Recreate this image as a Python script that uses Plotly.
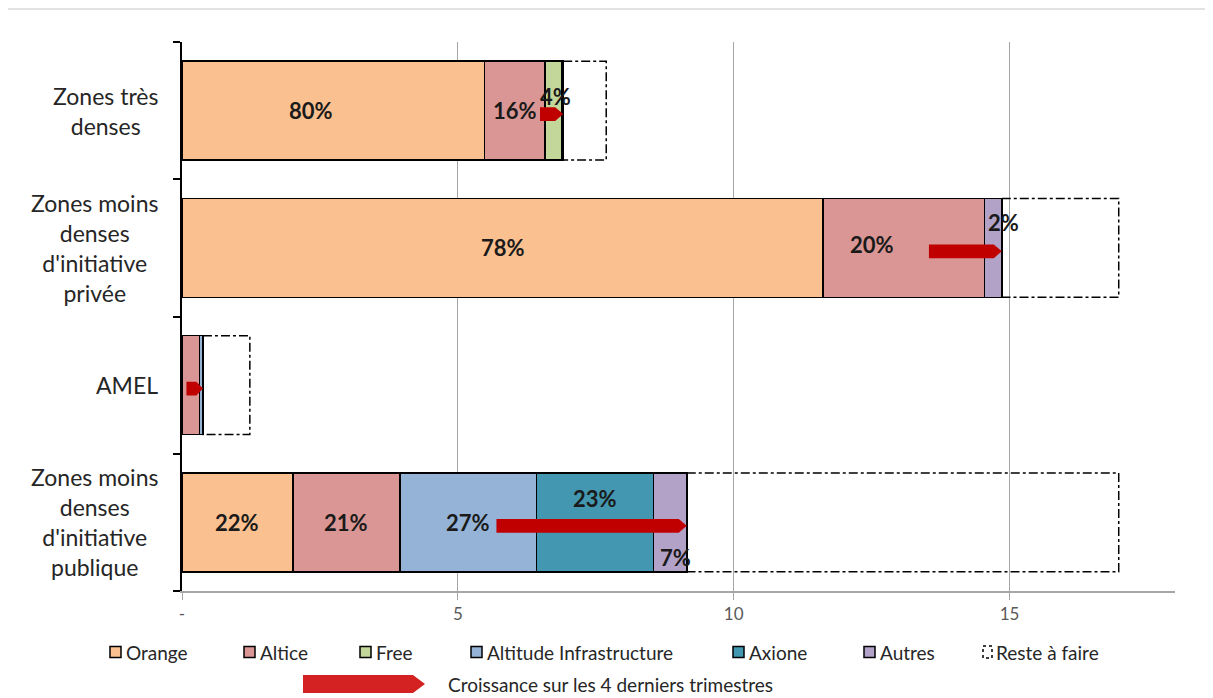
import plotly.graph_objects as go

# ---------------- data ----------------
categories = ["Zones très denses",
              "Zones moins denses d'initiative privée",
              "AMEL",
              "Zones moins denses d'initiative publique"]
category_labels = ["Zones très<br>denses",
                   "Zones moins<br>denses<br>d'initiative<br>privée",
                   "AMEL",
                   "Zones moins<br>denses<br>d'initiative<br>publique"]

orange = [5.48, 11.62, None, 2.01]
altice = [1.10, 2.93, 0.32, 1.94]
free = [0.31, None, None, None]
altitude = [None, None, 0.06, 2.48]
axione = [None, None, None, 2.12]
autres = [0.02, 0.31, None, 0.60]

target = [7.69, 16.98, 1.23, 16.98]      # total incl. "Reste à faire"
growth = [0.42, 1.32, 0.30, 3.45]        # croissance sur les 4 derniers trimestres

lbl_orange = ["80%", "78%", "", "22%"]
lbl_altice = ["16%", "20%", "", "21%"]
lbl_free = ["4%", "", "", ""]
lbl_altitude = ["", "", "", "27%"]
lbl_axione = ["", "", "", "23%"]
lbl_autres = ["", "2%", "", "7%"]

x_ticks = [0, 5, 10, 15]
x_ticktext = ["-", "5", "10", "15"]

series = [
    ("Orange", orange, "#FAC090", lbl_orange),
    ("Altice", altice, "#DA9694", lbl_altice),
    ("Free", free, "#C4D79B", lbl_free),
    ("Altitude Infrastructure", altitude, "#95B3D7", lbl_altitude),
    ("Axione", axione, "#4397B0", lbl_axione),
    ("Autres", autres, "#B3A2C7", lbl_autres),
]

# ---------------- layout geometry ----------------
OFF = 8                       # page body margin
W, H = 1213 - OFF, 698 - OFF
PLOT_L, PLOT_R, PLOT_T, PLOT_B = 182, 1175, 42, 591   # in reference pixels
ML, MT = PLOT_L - OFF, PLOT_T - OFF
MR, MB = W - (PLOT_R - OFF), H - (PLOT_B - OFF)
PW, PH = W - ML - MR, H - MT - MB


def px_x(px):
    return (px - OFF - ML) / PW


def px_y(py):
    return (H - MB - (py - OFF)) / PH


FONT = "Lato, 'Open Sans', sans-serif"
ypos = list(range(len(categories)))

fig = go.Figure()

for name, vals, col, _ in series:
    fig.add_trace(go.Bar(
        y=ypos, x=vals, name=name, orientation="h",
        marker=dict(color=col, line=dict(color="#000000", width=1.5)),
        width=0.72, showlegend=False, hoverinfo="x+name",
    ))

shapes = []
annotations = []

label_shift = {
    ("Orange", 0): (-22, 0),
    ("Altice", 1): (-32, 3),
    ("Free", 0): (2, 14),
    ("Autres", 1): (10, 25),
    ("Axione", 3): (0, 24),
    ("Autres", 3): (5, -35),
}
totals = []
for i in ypos:
    cum = 0.0
    for name, vals, col, lbls in series:
        v = vals[i] or 0.0
        if lbls[i]:
            dx, dy = label_shift.get((name, i), (0, 0))
            annotations.append(dict(
                x=cum + v / 2, y=i, xref="x", yref="y", text="<b>" + lbls[i] + "</b>",
                showarrow=False, xshift=dx, yshift=dy,
                font=dict(family=FONT, size=22, color="#1a1a1a")))
        cum += v
    totals.append(cum)

# "Reste à faire" dash-dot boxes
for i in ypos:
    shapes.append(dict(type="rect", xref="x", yref="y",
                       x0=totals[i], x1=target[i], y0=i - 0.36, y1=i + 0.36,
                       line=dict(color="#000000", width=1.5, dash="dashdot"),
                       fillcolor="rgba(0,0,0,0)", layer="above"))

# growth arrows
tip = 8 / (PW / 18.0)
for i in ypos:
    x1 = totals[i]
    x0 = x1 - growth[i]
    yc = i + 0.025
    hh = 0.05
    t = min(tip, growth[i] * 0.4)
    xb = x1 - t
    path = (f"M {x0},{yc - hh} L {xb},{yc - hh} L {x1},{yc} "
            f"L {xb},{yc + hh} L {x0},{yc + hh} Z")
    shapes.append(dict(type="path", xref="x", yref="y", path=path,
                       fillcolor="#C00000", line=dict(width=0), layer="above"))

# category labels (centered lines, right-aligned block)
for i in ypos:
    annotations.append(dict(
        x=0, y=i, xref="paper", yref="y", text=category_labels[i],
        showarrow=False, xanchor="right", xshift=-22, align="center",
        font=dict(family=FONT, size=23, color="#262626")))

# ---------------- manual legend ----------------
leg_sq = [110, 244, 360, 471, 733, 864]
leg_y = 652
for (name, vals, col, _), sx in zip(series, leg_sq):
    shapes.append(dict(type="rect", xref="paper", yref="paper",
                       x0=px_x(sx), x1=px_x(sx + 11), y0=px_y(leg_y - 5.5), y1=px_y(leg_y + 5.5),
                       fillcolor=col, line=dict(color="#000000", width=1.5)))
    annotations.append(dict(x=px_x(sx + 14), y=px_y(leg_y), xref="paper", yref="paper",
                            text=name, showarrow=False, xanchor="left", yanchor="middle",
                            font=dict(family=FONT, size=19, color="#262626")))
sx = 983
shapes.append(dict(type="rect", xref="paper", yref="paper",
                   x0=px_x(sx), x1=px_x(sx + 9), y0=px_y(leg_y - 6), y1=px_y(leg_y + 6),
                   fillcolor="rgba(0,0,0,0)", line=dict(color="#000000", width=1.5, dash="dot")))
annotations.append(dict(x=px_x(sx + 11), y=px_y(leg_y), xref="paper", yref="paper",
                        text="Reste à faire", showarrow=False, xanchor="left", yanchor="middle",
                        font=dict(family=FONT, size=19, color="#262626")))
ax0, ax1, ay = 303, 425, 684
atip = 12
shapes.append(dict(type="path", xref="paper", yref="paper",
                   path=(f"M {px_x(ax0)},{px_y(ay - 9)} L {px_x(ax1 - atip)},{px_y(ay - 9)} "
                         f"L {px_x(ax1)},{px_y(ay)} L {px_x(ax1 - atip)},{px_y(ay + 9)} "
                         f"L {px_x(ax0)},{px_y(ay + 9)} Z"),
                   fillcolor="#D42222", line=dict(width=0)))
annotations.append(dict(x=px_x(446), y=px_y(ay), xref="paper", yref="paper",
                        text="Croissance sur les 4 derniers trimestres", showarrow=False,
                        xanchor="left", yanchor="middle",
                        font=dict(family=FONT, size=19, color="#262626")))

# outer light frame
shapes.append(dict(type="rect", xref="paper", yref="paper",
                   x0=px_x(5), x1=px_x(1230), y0=px_y(720), y1=px_y(9),
                   line=dict(color="#d9d9d9", width=1.5), fillcolor="rgba(0,0,0,0)", layer="below"))

fig.update_layout(
    width=W, height=H,
    margin=dict(l=ML, r=MR, t=MT, b=MB),
    barmode="stack",
    plot_bgcolor="white", paper_bgcolor="white",
    font=dict(family=FONT),
    shapes=shapes, annotations=annotations,
    showlegend=False,
    xaxis=dict(range=[0, 18], tickmode="array", tickvals=x_ticks, ticktext=x_ticktext,
               showgrid=True, gridcolor="#a6a6a6", gridwidth=1.2,
               showline=True, linecolor="#a6a6a6", linewidth=1.5,
               ticks="outside", ticklen=7, tickcolor="#a6a6a6", tickwidth=1.2,
               zeroline=False, tickfont=dict(family=FONT, size=17, color="#595959")),
    yaxis=dict(range=[3.5, -0.5], tickmode="array", tickvals=[-0.5, 0.5, 1.5, 2.5, 3.5],
               ticktext=["", "", "", "", ""], showgrid=False, zeroline=False,
               showline=True, linecolor="#000000", linewidth=1.5,
               ticks="outside", ticklen=7, tickcolor="#000000", tickwidth=1.5),
)

fig.write_html("out.html")
